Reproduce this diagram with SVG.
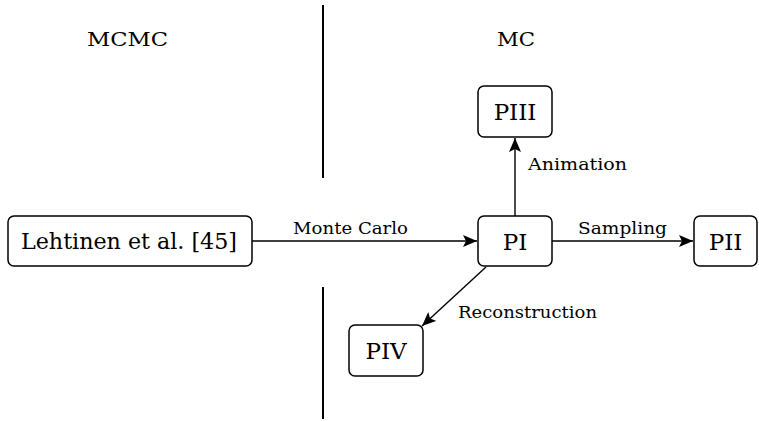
<svg xmlns="http://www.w3.org/2000/svg" width="759" height="421" viewBox="0 0 759 421">
<style>
.box{fill:#fff;stroke:#000;stroke-width:1.5}
text{font-family:'DejaVu Serif','Liberation Serif',serif;fill:#000}
.nt{font-size:23px}
.lt{font-size:16px}
.ht{font-size:19px}
.edge{stroke:#000;stroke-width:1.4;fill:none}
.div{stroke:#000;stroke-width:2}
</style>
<defs>
<marker id="ah" viewBox="0 0 14 12" refX="14" refY="6" markerWidth="14" markerHeight="12" markerUnits="userSpaceOnUse" orient="auto">
<path d="M0,0 L14,6 L0,12 L3,6 Z" fill="#000"/>
</marker>
</defs>
<g id="dividers">
<line class="div" x1="323" y1="5" x2="323" y2="178"/>
<line class="div" x1="323" y1="287" x2="323" y2="419"/>
</g>
<g id="headers">
<text class="ht" x="87" y="46" textLength="81" lengthAdjust="spacingAndGlyphs">MCMC</text>
<text class="ht" x="497" y="46" textLength="38" lengthAdjust="spacingAndGlyphs">MC</text>
</g>
<g id="connectors">
<line class="edge" x1="252" y1="241" x2="477" y2="241" marker-end="url(#ah)"/>
<text class="lt" x="293" y="234" textLength="115" lengthAdjust="spacingAndGlyphs">Monte Carlo</text>
<line class="edge" x1="552" y1="241" x2="693" y2="241" marker-end="url(#ah)"/>
<text class="lt" x="578" y="234" textLength="89" lengthAdjust="spacingAndGlyphs">Sampling</text>
<line class="edge" x1="515" y1="216" x2="515" y2="138" marker-end="url(#ah)"/>
<text class="lt" x="528" y="170" textLength="99" lengthAdjust="spacingAndGlyphs">Animation</text>
<line class="edge" x1="486" y1="267" x2="422" y2="326" marker-end="url(#ah)"/>
<text class="lt" x="458" y="318" textLength="139" lengthAdjust="spacingAndGlyphs">Reconstruction</text>
</g>
<g id="lehtinen">
<rect class="box" x="8" y="216" width="244" height="50" rx="6"/>
<text class="nt" x="21" y="249" textLength="216" lengthAdjust="spacingAndGlyphs">Lehtinen et al. [45]</text>
</g>
<g id="PI">
<rect class="box" x="478" y="216" width="74" height="50" rx="6"/>
<text class="nt" x="515" y="250" text-anchor="middle">PI</text>
</g>
<g id="PII">
<rect class="box" x="694" y="216" width="63" height="50" rx="6"/>
<text class="nt" x="725.5" y="250" text-anchor="middle">PII</text>
</g>
<g id="PIII">
<rect class="box" x="478" y="86" width="74" height="51" rx="6"/>
<text class="nt" x="515" y="120" text-anchor="middle">PIII</text>
</g>
<g id="PIV">
<rect class="box" x="349" y="325" width="74" height="51" rx="6"/>
<text class="nt" x="386" y="359" text-anchor="middle">PIV</text>
</g>
</svg>
